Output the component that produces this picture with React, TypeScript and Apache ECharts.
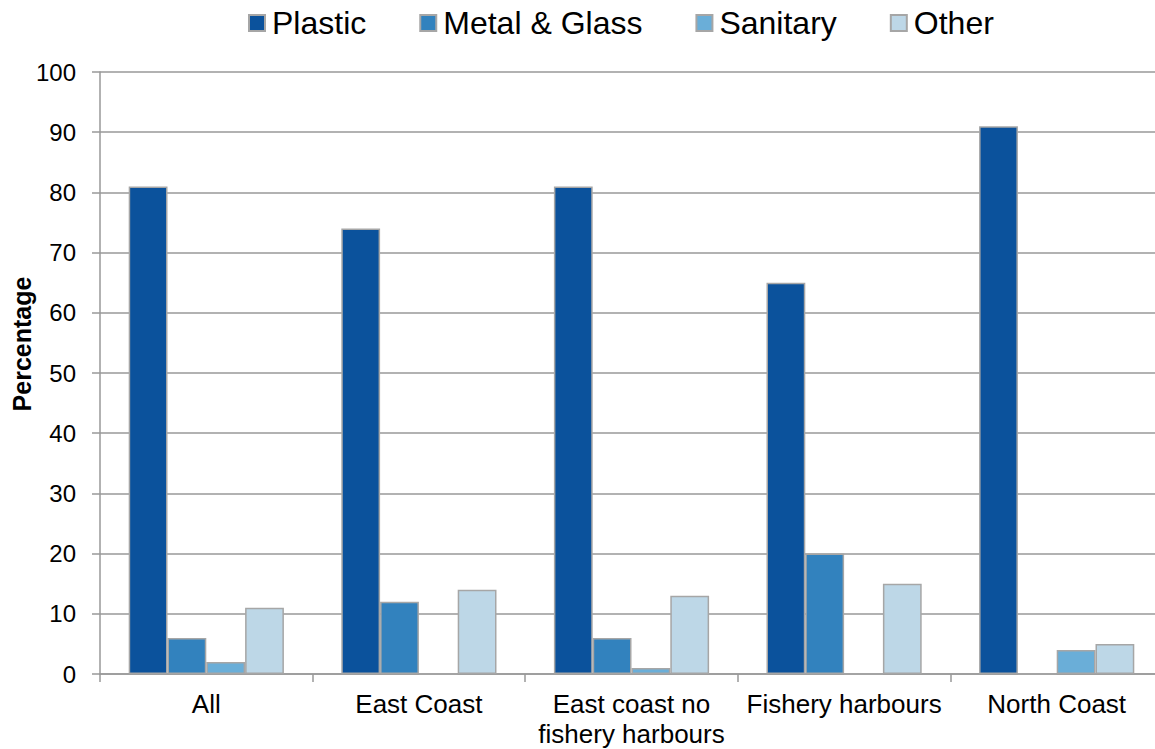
import React, { useEffect, useRef } from "react";
import * as echarts from "echarts";

const categories = ["All", "East Coast", "East coast no\nfishery harbours", "Fishery harbours", "North Coast"];
const plastic = [81, 74, 81, 65, 91];
const metalGlass = [6, 12, 6, 20, 0];
const sanitary = [2, 0, 1, 0, 4];
const other = [11, 14, 13, 15, 5];
const seriesNames = ["Plastic", "Metal & Glass", "Sanitary", "Other"];
const seriesColors = ["#0B529C", "#3282BE", "#6AAED8", "#BDD7E7"];
const yTicks = { min: 0, max: 100, interval: 10 };

export default function App() {
  const ref = useRef<HTMLDivElement>(null);
  useEffect(() => {
    if (!ref.current) return;
    const chart = echarts.init(ref.current, undefined, { renderer: "svg" });
    const values = [plastic, metalGlass, sanitary, other];
    chart.setOption({
      animation: false,
      textStyle: { fontFamily: "Liberation Sans, Arial, sans-serif" },
      legend: {
        left: 243,
        top: 2,
        itemWidth: 16,
        itemHeight: 16,
        itemGap: 53,
        icon: "rect",
        textStyle: { fontSize: 32, color: "#000", padding: [0, 0, 0, 2] },
        data: seriesNames,
      },
      grid: { left: 100, right: 0, top: 72, bottom: 74, containLabel: false },
      xAxis: {
        type: "category",
        data: categories,
        axisLine: { lineStyle: { color: "#999", width: 1.5 } },
        axisTick: { show: true, length: 8, lineStyle: { color: "#999", width: 1.5 } },
        axisLabel: { fontSize: 26, color: "#000", margin: 15, lineHeight: 30, interval: 0 },
      },
      yAxis: {
        type: "value",
        min: yTicks.min,
        max: yTicks.max,
        interval: yTicks.interval,
        axisLine: { show: true, lineStyle: { color: "#999", width: 1.5 } },
        axisTick: { show: true, length: 8, lineStyle: { color: "#999", width: 1.5 } },
        axisLabel: { fontSize: 24, color: "#000", margin: 24 },
        splitLine: { lineStyle: { color: "#999", width: 1.5 } },
      },
      graphic: [
        {
          type: "text",
          x: 22,
          y: 344,
          rotation: Math.PI / 2,
          style: {
            text: "Percentage",
            fontSize: 25,
            fontWeight: "bold",
            fill: "#000",
            align: "center",
            verticalAlign: "middle",
            fontFamily: "Liberation Sans, Arial, sans-serif",
          },
        },
      ],
      series: seriesNames.map((name, i) => ({
        name,
        type: "bar",
        data: values[i],
        barGap: "0%",
        barCategoryGap: "27%",
        itemStyle: { color: seriesColors[i], borderColor: "#A6A6A6", borderWidth: 1.5 },
      })),
    });
    return () => chart.dispose();
  }, []);
  return (
    <div style={{ position: "fixed", left: 0, top: 0, width: 1155, height: 749, overflow: "hidden", background: "#fff" }}>
      <div ref={ref} style={{ width: 1163, height: 749 }} />
    </div>
  );
}
